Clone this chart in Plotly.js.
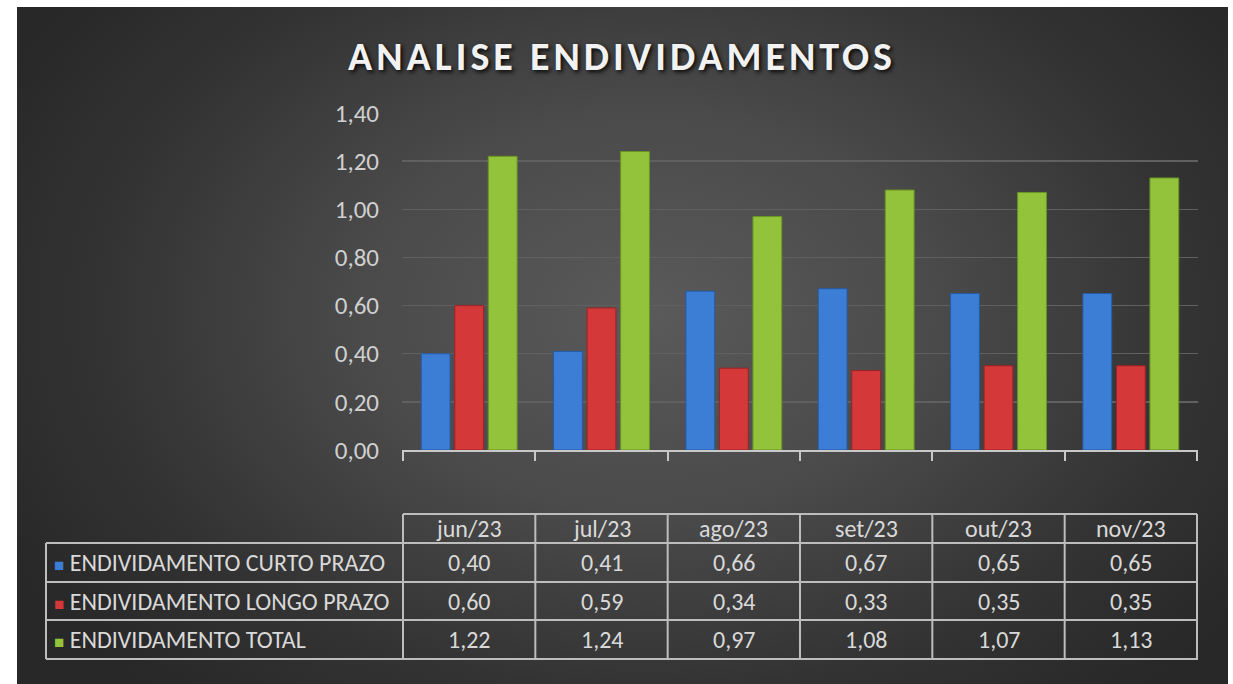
<!DOCTYPE html>
<html>
<head>
<meta charset="utf-8">
<script src="https://cdn.plot.ly/plotly-3.0.1.min.js"></script>
<style>
  html, body { margin: 0; padding: 0; background: #ffffff; width: 1233px; height: 684px; overflow: hidden; }
  #bg { position: absolute; left: 17px; top: 7px; width: 1211px; height: 677px;
        background: radial-gradient(ellipse 60% 75% at 52% 45%, #5a5a5a 0%, #4a4a4a 40%, #333333 75%, #282828 100%); }
  #chart { position: absolute; left: 0; top: 0; width: 1233px; height: 684px; }
  .gtitle { letter-spacing: 4px; }
</style>
</head>
<body>
<div id="bg"></div>
<div id="chart"></div>
<script>
const categories = ['jun/23', 'jul/23', 'ago/23', 'set/23', 'out/23', 'nov/23'];
const seriesNames = ['ENDIVIDAMENTO CURTO PRAZO', 'ENDIVIDAMENTO LONGO PRAZO', 'ENDIVIDAMENTO TOTAL'];
const curtoPrazo = [0.40, 0.41, 0.66, 0.67, 0.65, 0.65];
const longoPrazo = [0.60, 0.59, 0.34, 0.33, 0.35, 0.35];
const total = [1.22, 1.24, 0.97, 1.08, 1.07, 1.13];
const yTicks = [0, 0.2, 0.4, 0.6, 0.8, 1.0, 1.2, 1.4];

const colors = ['#3c7ed6', '#d43838', '#93c23b'];
const edgeColors = ['#245ba3', '#9c2222', '#6a9424'];
const allSeries = [curtoPrazo, longoPrazo, total];
const font = 'Carlito, Lato, sans-serif';
const W = 1233, H = 684;
const py = px => 1 - px / H;   // pixel row -> paper y
const pxX = px => px / W;      // pixel column -> paper x

const fmt = v => v.toFixed(2).replace('.', ',');

const traces = allSeries.map((vals, i) => ({
  type: 'bar',
  x: categories,
  y: vals,
  name: seriesNames[i],
  marker: { color: colors[i], line: { color: edgeColors[i], width: 1 } },
  hoverinfo: 'skip',
  showlegend: false
}));

// ---- data table under the chart (shapes + annotations) ----
const lineCol = '#bdbdbd';
const tblFont = { family: font, size: 24, color: '#d9d9d9' };
const headerTop = 514, rowLines = [543, 582, 620, 659];
const tableLeft = 46;
const rowCenters = [562.5, 601, 639.5];
const shapes = [];
const lineStyle = { color: lineCol, width: 2 };
// horizontal lines
shapes.push({ type: 'line', xref: 'x', yref: 'paper', x0: -0.5, x1: categories.length - 0.5, y0: py(headerTop), y1: py(headerTop), line: lineStyle });
rowLines.forEach(r => shapes.push({ type: 'line', xref: 'paper', yref: 'paper', x0: pxX(tableLeft), x1: pxX(1198), y0: py(r), y1: py(r), line: lineStyle }));
// vertical lines at category boundaries
for (let i = 0; i <= categories.length; i++) {
  shapes.push({ type: 'line', xref: 'x', yref: 'paper', x0: i - 0.5, x1: i - 0.5, y0: py(headerTop), y1: py(rowLines[3]), line: lineStyle });
}
// left border of legend column
shapes.push({ type: 'line', xref: 'paper', yref: 'paper', x0: pxX(tableLeft), x1: pxX(tableLeft), y0: py(rowLines[0]), y1: py(rowLines[3]), line: lineStyle });

const annotations = [];
categories.forEach((c, j) => {
  annotations.push({ xref: 'x', yref: 'paper', x: c, y: py(528.5), text: c, showarrow: false, xanchor: 'center', yanchor: 'middle', font: tblFont });
  allSeries.forEach((s, i) => {
    annotations.push({ xref: 'x', yref: 'paper', x: c, y: py(rowCenters[i]), text: fmt(s[j]), showarrow: false, xanchor: 'center', yanchor: 'middle', font: tblFont });
  });
});
seriesNames.forEach((n, i) => {
  annotations.push({
    xref: 'paper', yref: 'paper', x: pxX(52), y: py(rowCenters[i]),
    text: '<span style="color:' + colors[i] + ';font-size:17px">■</span> ' + n,
    showarrow: false, xanchor: 'left', yanchor: 'middle', font: tblFont
  });
});

const layout = {
  width: W, height: H,
  paper_bgcolor: 'rgba(0,0,0,0)',
  plot_bgcolor: 'rgba(0,0,0,0)',
  margin: { l: 0, r: 0, t: 0, b: 0 },
  separators: ',.',
  barmode: 'group',
  bargap: 0.24,
  bargroupgap: 0.14,
  title: {
    text: 'ANALISE ENDIVIDAMENTOS',
    x: 622 / W, xanchor: 'center',
    y: py(56), yanchor: 'middle',
    font: { family: font, size: 40, color: '#f2f2f2', weight: 'bold', shadow: '2px 2px 4px rgba(0,0,0,0.9)' }
  },
  xaxis: {
    domain: [402 / W, 1198 / W],
    showline: true, linecolor: '#c8c8c8', linewidth: 2,
    ticks: 'outside', tickson: 'boundaries', ticklen: 9, tickcolor: '#c8c8c8', tickwidth: 2,
    showticklabels: false, showgrid: false, zeroline: false, fixedrange: true
  },
  yaxis: {
    domain: [py(450), py(113)],
    range: [0, 1.4],
    tickvals: yTicks,
    ticktext: yTicks.map(fmt),
    showgrid: true, gridcolor: '#606060', gridwidth: 1.5,
    zeroline: false, showline: false, ticks: '',
    ticklabelstandoff: 22,
    tickfont: { family: font, size: 25, color: '#d0d0d0' },
    fixedrange: true
  },
  shapes: shapes,
  annotations: annotations,
  hovermode: false
};

Plotly.newPlot('chart', traces, layout, { displayModeBar: false, staticPlot: true });
</script>
</body>
</html>
